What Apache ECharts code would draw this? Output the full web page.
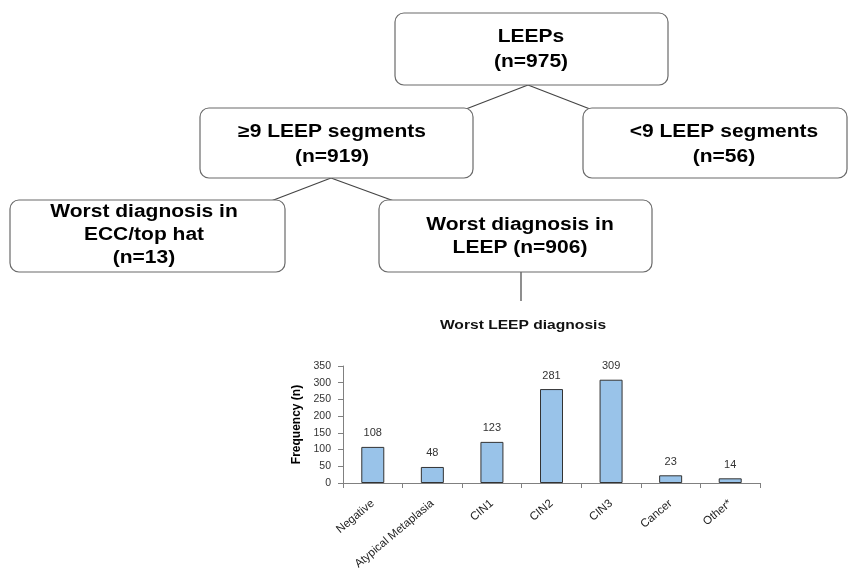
<!DOCTYPE html>
<html>
<head>
<meta charset="utf-8">
<script src="https://cdn.jsdelivr.net/npm/echarts@6/dist/echarts.min.js"></script>
<style>
html,body{margin:0;padding:0;background:#fff;}
#chart{width:849px;height:578px;}
</style>
</head>
<body>
<div id="chart"></div>
<script>
const categories = ['Negative', 'Atypical Metaplasia', 'CIN1', 'CIN2', 'CIN3', 'Cancer', 'Other*'];
const frequency = [108, 48, 123, 281, 309, 23, 14];
const yTicks = [0, 50, 100, 150, 200, 250, 300, 350];

const boxTexts = {
  root: ['LEEPs', '(n=975)'],
  ge9: ['\u22659 LEEP segments', '(n=919)'],
  lt9: ['<9 LEEP segments', '(n=56)'],
  ecc: ['Worst diagnosis in', 'ECC/top hat', '(n=13)'],
  leep: ['Worst diagnosis in', 'LEEP (n=906)']
};
const chartTitle = 'Worst LEEP diagnosis';

const boxFont = "bold 17.5px Arial, 'Liberation Sans', sans-serif";
const stretch = 1.2;

function box(x, y, w, h, cx, lines, ys) {
  const els = [{
    type: 'rect', shape: {x: x, y: y, width: w, height: h, r: 9},
    style: {fill: '#fff', stroke: '#6a6a6a', lineWidth: 1.2}
  }];
  lines.forEach(function (t, i) {
    els.push({
      type: 'text', x: cx, y: ys[i], scaleX: stretch,
      style: {text: t, font: boxFont, fill: '#000', textAlign: 'center', textVerticalAlign: 'middle'}
    });
  });
  return els;
}
function line(x1, y1, x2, y2) {
  return {type: 'line', shape: {x1: x1, y1: y1, x2: x2, y2: y2}, style: {stroke: '#444', lineWidth: 1.2}};
}

const graphics = [].concat(
  [line(528, 85, 466, 109), line(528, 85, 590, 109), line(331, 178, 271, 201), line(331, 178, 394, 201), line(521, 272, 521, 301)],
  box(395, 13, 273, 72, 531, boxTexts.root, [37, 62]),
  box(200, 108, 273, 70, 332, boxTexts.ge9, [132, 157]),
  box(583, 108, 264, 70, 724, boxTexts.lt9, [132, 157]),
  box(10, 200, 275, 72, 144, boxTexts.ecc, [212, 235, 258]),
  box(379, 200, 273, 72, 520, boxTexts.leep, [225, 248]),
  [{
    type: 'text', x: 523, y: 325, scaleX: stretch,
    style: {text: chartTitle, font: "bold 13px Arial, 'Liberation Sans', sans-serif", fill: '#111', textAlign: 'center', textVerticalAlign: 'middle'}
  }]
);

const chart = echarts.init(document.getElementById('chart'));
chart.setOption({
  animation: false,
  backgroundColor: '#fff',
  graphic: graphics,
  grid: {left: 343, top: 366, right: 89, bottom: 95},
  xAxis: {
    type: 'category', data: categories, boundaryGap: true,
    axisLine: {lineStyle: {color: '#808080', width: 1}},
    axisTick: {show: true, length: 5, lineStyle: {color: '#808080'}},
    axisLabel: {rotate: 40, fontSize: 11.5, color: '#222', fontFamily: 'Arial', margin: 19, interval: 0}
  },
  yAxis: {
    type: 'value', min: yTicks[0], max: yTicks[yTicks.length - 1], interval: 50,
    name: 'Frequency (n)', nameLocation: 'middle', nameGap: 40,
    nameTextStyle: {fontSize: 12, fontWeight: 'bold', color: '#000', fontFamily: 'Arial'},
    axisLine: {show: true, lineStyle: {color: '#808080', width: 1}},
    axisTick: {show: true, length: 5, lineStyle: {color: '#808080'}},
    axisLabel: {fontSize: 10.5, color: '#333', fontFamily: 'Arial', margin: 12},
    splitLine: {show: false}
  },
  series: [{
    type: 'bar', data: frequency, barWidth: 23,
    itemStyle: {color: '#99c3e9', borderColor: '#333', borderWidth: 1},
    label: {show: true, position: 'top', distance: 8, fontSize: 11, color: '#333', fontFamily: 'Arial'}
  }]
});
</script>
</body>
</html>
